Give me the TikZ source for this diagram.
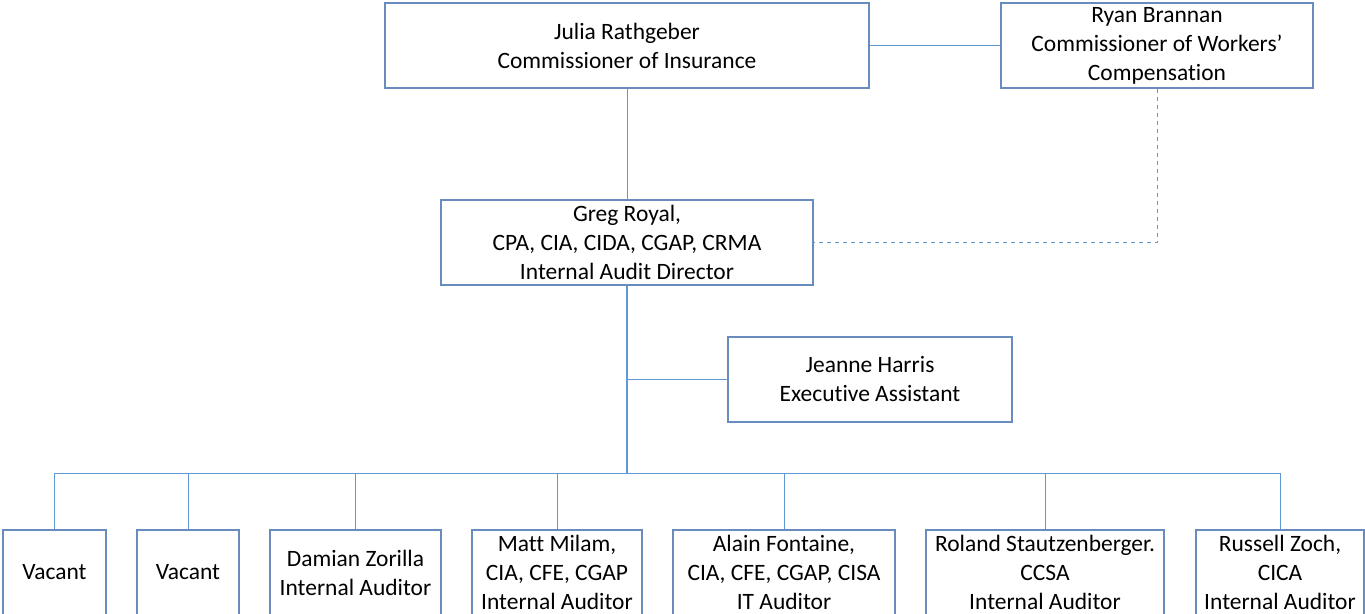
\documentclass[tikz,border=0pt]{standalone}
\usepackage{fontspec}
\setmainfont[Ligatures=NoCommon]{Carlito}
\usepackage{xcolor}
\definecolor{boxline}{RGB}{104,140,190}
\definecolor{linkblue}{RGB}{96,152,212}

\tikzset{
  post/.style={draw=boxline,line width=0.9pt,fill=white,align=center,inner sep=0pt,
    font=\fontsize{17.6}{21.75}\selectfont},
  link/.style={draw=linkblue,line width=0.75pt},
}

\begin{document}
\begin{tikzpicture}[x=0.75pt,y=-0.75pt]
  \useasboundingbox (0,0) rectangle (1365,614);
  \clip (0,0) rectangle (1365,614);
  \node[post,minimum width=363pt,minimum height=63.75pt] (julia) at (627,45.5)
    {Julia Rathgeber\\Commissioner of Insurance};
  \node[post,minimum width=234pt,minimum height=63.75pt] (ryan) at (1157,45.5)
    {Ryan Brannan\\Commissioner of Workers’\\Compensation};
  \node[post,minimum width=279pt,minimum height=63.75pt] (greg) at (627,242.5)
    {Greg Royal,\\CPA, CIA, CIDA, CGAP, CRMA\\Internal Audit Director};
  \node[post,minimum width=213pt,minimum height=63.75pt] (jeanne) at (870,379.5)
    {Jeanne Harris\\Executive Assistant};
  \coordinate (bus) at (627,473);
  % staff row
  \node[post,minimum width=77.25pt,minimum height=63.75pt] (vac1) at (54.5,572.5) {Vacant};
  \node[post,minimum width=76.5pt,minimum height=63.75pt] (vac2) at (188,572.5) {Vacant};
  \node[post,minimum width=128.25pt,minimum height=63.75pt] (damian) at (355.5,572.5)
    {Damian Zorilla\\Internal Auditor};
  \node[post,minimum width=127.5pt,minimum height=63.75pt] (matt) at (557,572.5)
    {Matt Milam,\\CIA, CFE, CGAP\\Internal Auditor};
  \node[post,minimum width=166.5pt,minimum height=63.75pt] (alain) at (784,572.5)
    {Alain Fontaine,\\CIA, CFE, CGAP, CISA\\IT Auditor};
  \node[post,minimum width=178.5pt,minimum height=63.75pt] (roland) at (1045,572.5)
    {Roland Stautzenberger.\\CCSA\\Internal Auditor};
  \node[post,minimum width=126pt,minimum height=63.75pt] (russell) at (1280,572.5)
    {Russell Zoch,\\CICA\\Internal Auditor};
  \draw[link] (julia.east) -- (ryan.west);
  \draw[link] (julia.south) -- (greg.north);
  \draw[link,dashed] (ryan.south) -- (ryan.south |- greg.east) -- (greg.east);
  \draw[link,line width=1.5pt] (greg.south) -- (bus);
  \draw[link] (greg.south |- jeanne.west) -- (jeanne.west);
  \draw[link] (vac1.north |- bus) -- (russell.north |- bus);
  \foreach \n in {vac1,vac2,damian,matt,alain,roland,russell}
    \draw[link] (\n.north) -- (\n.north |- bus);
\end{tikzpicture}
\end{document}
